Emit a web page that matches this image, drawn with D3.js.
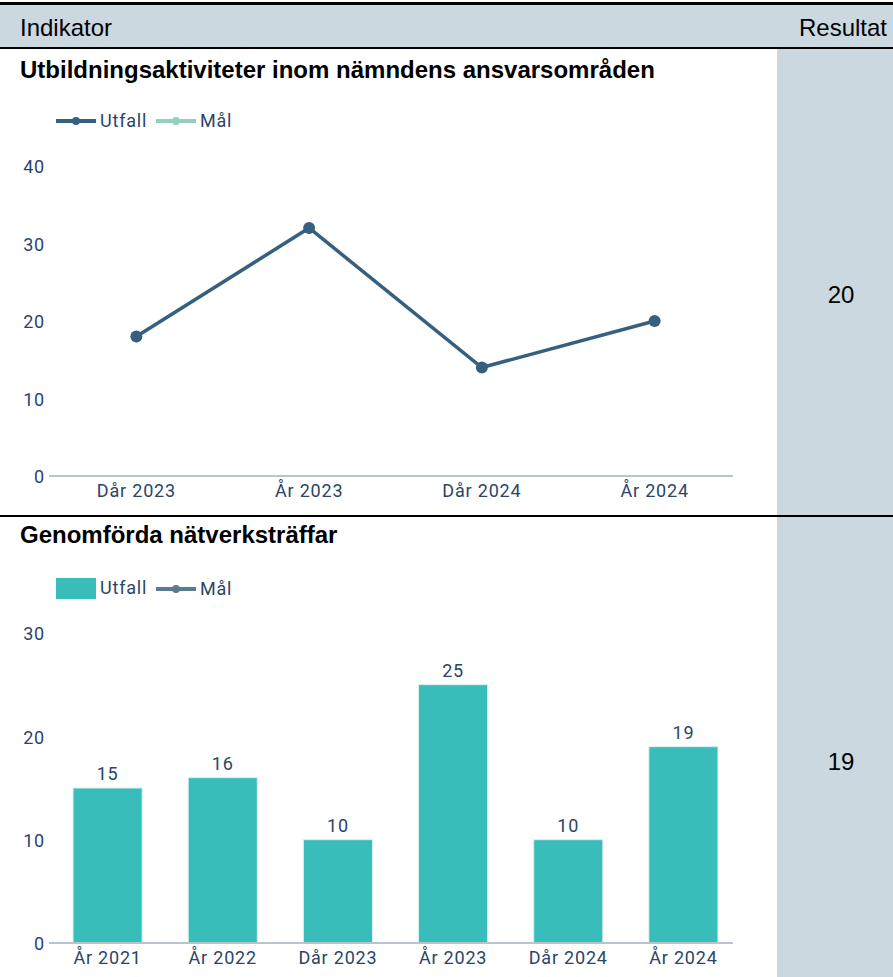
<!DOCTYPE html>
<html>
<head>
<meta charset="utf-8">
<script src="https://cdn.jsdelivr.net/npm/d3@7"></script>
<style>
  body { margin: 0; background: #fff; }
  svg { display: block; }
  .tick text, .lbl { font-family: Roboto, sans-serif; font-size: 18px; fill: #2b4567; letter-spacing: 0.8px; }
  .hdr { font-family: "Liberation Sans", Arial, sans-serif; font-size: 24px; fill: #000; }
  .ttl { font-family: "Liberation Sans", Arial, sans-serif; font-size: 24px; font-weight: bold; fill: #000; }
</style>
</head>
<body>
<div id="chart"></div>
<script>
// chart 1: Utbildningsaktiviteter
const lineCats = ["Dår 2023", "År 2023", "Dår 2024", "År 2024"];
const lineUtfall = [18, 32, 14, 20];
const lineTicks = [0, 10, 20, 30, 40];

// chart 2: Genomförda nätverksträffar
const barCats = ["År 2021", "År 2022", "Dår 2023", "År 2023", "Dår 2024", "År 2024"];
const barUtfall = [15, 16, 10, 25, 10, 19];
const barTicks = [0, 10, 20, 30];

const results = ["20", "19"];

const W = 893, H = 977;
const colGray = "#cbd8e0";

const svg = d3.select("#chart").append("svg")
  .attr("width", W)
  .attr("height", H);

// table background
svg.append("rect").attr("x", 0).attr("y", 5).attr("width", W).attr("height", 42).attr("fill", colGray);
svg.append("rect").attr("x", 777).attr("y", 49).attr("width", W - 777).attr("height", H - 49).attr("fill", colGray);
svg.append("rect").attr("x", 0).attr("y", 2).attr("width", W).attr("height", 3).attr("fill", "#000");
svg.append("rect").attr("x", 0).attr("y", 47).attr("width", W).attr("height", 2).attr("fill", "#000");
svg.append("rect").attr("x", 0).attr("y", 515).attr("width", W).attr("height", 2).attr("fill", "#000");

svg.append("text").attr("class", "hdr").attr("x", 20).attr("y", 36).text("Indikator");
svg.append("text").attr("class", "hdr").attr("x", 887).attr("y", 36).attr("text-anchor", "end").text("Resultat");

svg.append("text").attr("class", "ttl").attr("x", 20).attr("y", 78).text("Utbildningsaktiviteter inom nämndens ansvarsområden");
svg.append("text").attr("class", "ttl").attr("x", 20).attr("y", 543).text("Genomförda nätverksträffar");

svg.append("text").attr("class", "hdr").attr("x", 841).attr("y", 303).attr("text-anchor", "middle").text(results[0]);
svg.append("text").attr("class", "hdr").attr("x", 841).attr("y", 770).attr("text-anchor", "middle").text(results[1]);

function yAxis(g, scale, ticks) {
  g.call(d3.axisLeft(scale).tickValues(ticks).tickSize(0).tickPadding(4))
    .call(g => g.select(".domain").remove())
    .call(g => g.selectAll(".tick text").attr("x", -4).attr("dy", "0.38em"));
}

function xAxis(g, scale, y0) {
  g.attr("transform", `translate(0,${y0})`)
    .call(d3.axisBottom(scale).tickSize(0).tickPadding(8))
    .call(g => g.select(".domain").remove())
    .call(g => g.selectAll(".tick text").attr("dy", "0.71em"));
  g.append("line")
    .attr("x1", 49).attr("x2", 733)
    .attr("y1", 0).attr("y2", 0)
    .attr("stroke", "#b9c5cd").attr("stroke-width", 2);
}

// ---- line chart
const lineColor = "#35607f";
const x1 = d3.scaleBand().domain(lineCats).range([50, 741]);
const y1 = d3.scaleLinear().domain([0, 40]).range([476, 166]);

svg.append("g").attr("transform", "translate(49,0)").call(yAxis, y1, lineTicks);
svg.append("g").call(xAxis, x1, 476);

const line = d3.line()
  .x((d, i) => x1(lineCats[i]) + x1.bandwidth() / 2)
  .y(d => y1(d));

svg.append("path")
  .datum(lineUtfall)
  .attr("d", line)
  .attr("fill", "none")
  .attr("stroke", lineColor)
  .attr("stroke-width", 3.5);

svg.selectAll(".dot1")
  .data(lineUtfall)
  .join("circle")
  .attr("cx", (d, i) => x1(lineCats[i]) + x1.bandwidth() / 2)
  .attr("cy", d => y1(d))
  .attr("r", 6)
  .attr("fill", lineColor);

// legend 1
function legendLine(g, x, y, color, label) {
  g.append("line").attr("x1", x).attr("x2", x + 40).attr("y1", y).attr("y2", y)
    .attr("stroke", color).attr("stroke-width", 4);
  g.append("circle").attr("cx", x + 20).attr("cy", y).attr("r", 4).attr("fill", color);
  g.append("text").attr("class", "lbl").attr("x", x + 44).attr("y", y).attr("dy", "0.35em").text(label);
}
const leg1 = svg.append("g");
legendLine(leg1, 56, 121, lineColor, "Utfall");
legendLine(leg1, 156, 121, "#93d0c0", "Mål");

// ---- bar chart
const barColor = "#38bdbb";
const x2 = d3.scaleBand().domain(barCats).range([50, 741]).paddingInner(0.4).paddingOuter(0.2);
const y2 = d3.scaleLinear().domain([0, 30]).range([943, 633]);

svg.append("g").attr("transform", "translate(49,0)").call(yAxis, y2, barTicks);

svg.selectAll(".bar")
  .data(barUtfall)
  .join("rect")
  .attr("x", (d, i) => x2(barCats[i]))
  .attr("y", d => y2(d))
  .attr("width", x2.bandwidth())
  .attr("height", d => y2(0) - y2(d))
  .attr("fill", barColor)
  .attr("stroke", "#d8f1f0")
  .attr("stroke-width", 1);

svg.selectAll(".vlbl")
  .data(barUtfall)
  .join("text")
  .attr("class", "lbl")
  .attr("x", (d, i) => x2(barCats[i]) + x2.bandwidth() / 2)
  .attr("y", d => y2(d) - 8)
  .attr("text-anchor", "middle")
  .text(d => d);

svg.append("g").call(xAxis, x2, 943);

const leg2 = svg.append("g");
leg2.append("rect").attr("x", 56).attr("y", 578).attr("width", 40).attr("height", 21).attr("fill", barColor);
leg2.append("text").attr("class", "lbl").attr("x", 100).attr("y", 588).attr("dy", "0.35em").text("Utfall");
legendLine(leg2, 156, 589, "#5a7a92", "Mål");
</script>
</body>
</html>
